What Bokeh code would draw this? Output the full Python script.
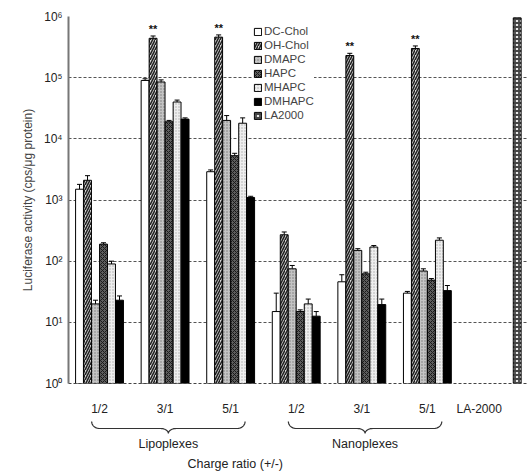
import numpy as np
from bokeh.plotting import figure
from bokeh.models import (ColumnDataSource, FixedTicker, Legend, LegendItem, Whisker,
                          TeeHead, Range1d)
from bokeh.layouts import column
from bokeh.core.properties import value
from bokeh.embed import file_html
from bokeh.resources import INLINE

# ---------------- data ----------------
ratio_labels = ["1/2", "3/1", "5/1", "1/2", "3/1", "5/1"]
group_names = ["Lipoplexes", "Nanoplexes"]
la_label = "LA-2000"
series_names = ["DC-Chol", "OH-Chol", "DMAPC", "HAPC", "MHAPC", "DMHAPC"]

dc_chol = [1500, 90000, 2900, 15, 46, 30]
oh_chol = [2100, 440000, 460000, 270, 230000, 300000]
dmapc = [20, 85000, 20000, 75, 150, 69]
hapc = [190, 19000, 5300, 15, 62, 49]
mhapc = [90, 40000, 18000, 20, 170, 220]
dmhapc = [23, 21000, 1100, 12.6, 19.5, 33]
la2000 = [950000]

dc_chol_err = [1800, 96000, 3100, 30, 60, 32]
oh_chol_err = [2500, 480000, 500000, 300, 250000, 330000]
dmapc_err = [23, 92000, 24000, 85, 160, 75]
hapc_err = [200, 20000, 5800, 16, 66, 52]
mhapc_err = [100, 43000, 22000, 24, 180, 240]
dmhapc_err = [27, 22000, 1150, 15, 24, 40]

oh_chol_marks = ["", "**", "**", "", "**", "**"]

all_values = [dc_chol, oh_chol, dmapc, hapc, mhapc, dmhapc]
all_errs = [dc_chol_err, oh_chol_err, dmapc_err, hapc_err, mhapc_err, dmhapc_err]

# ---------------- layout helpers ----------------
FONT = "Liberation Sans"
group_x = np.arange(1, 7)
la_x = 7.37
la_tick = 6.79
bar_w = 0.12
offsets = [-0.305, -0.183, -0.061, 0.061, 0.183, 0.305]

styles = [
    dict(fill_color="white"),
    dict(fill_color="#d8d8d8", hatch_pattern="/", hatch_color="#222222", hatch_scale=5, hatch_weight=1.6),
    dict(fill_color="#c4c4c4", hatch_pattern=".", hatch_color="#777777", hatch_scale=3, hatch_weight=1),
    dict(fill_color="#5e5e5e", hatch_pattern="x", hatch_color="#1a1a1a", hatch_scale=4, hatch_weight=1),
    dict(fill_color="#eeeeee", hatch_pattern=".", hatch_color="#aaaaaa", hatch_scale=3, hatch_weight=1),
    dict(fill_color="black"),
]
la_style = dict(fill_color="#e8e8e8", hatch_pattern="+", hatch_color="#444444", hatch_scale=4, hatch_weight=1.8)

p = figure(width=530, height=418, y_axis_type="log",
           x_range=Range1d(0.527, 7.527), y_range=Range1d(1, 1e6),
           output_backend="svg", toolbar_location=None,
           min_border_left=68, min_border_right=3, min_border_top=16, min_border_bottom=30)
p.outline_line_color = None
p.background_fill_color = "white"

renderers = []
for i, (vals, errs, st) in enumerate(zip(all_values, all_errs, styles)):
    src = ColumnDataSource(dict(x=group_x + offsets[i], top=vals, err=errs))
    r = p.vbar(x="x", top="top", bottom=1, width=bar_w, source=src,
               line_color="black", line_width=1, **st)
    renderers.append(r)
    w = Whisker(source=src, base="x", upper="err", lower="top", dimension="height",
                line_color="black", line_width=1,
                upper_head=TeeHead(size=5, line_color="black", line_width=1), lower_head=None)
    p.add_layout(w)

la_src = ColumnDataSource(dict(x=[la_x], top=la2000))
la_r = p.vbar(x="x", top="top", bottom=1, width=bar_w, source=la_src,
              line_color="black", line_width=1, **la_style)
renderers.append(la_r)

# significance marks
star_src = ColumnDataSource(dict(x=group_x + offsets[1], y=[e * 1.04 for e in oh_chol_err], t=oh_chol_marks))
p.text(x="x", y="y", text="t", source=star_src, text_align="center", text_baseline="bottom",
       text_font=value(FONT), text_font_size="11px", text_color="#111111", text_font_style="bold")

# legend
items = [LegendItem(label=n, renderers=[r]) for n, r in zip(series_names + ["LA2000"], renderers)]
legend = Legend(items=items, location=(185, 261), padding=0, margin=0, spacing=0,
                label_height=14, glyph_height=9, glyph_width=9, label_standoff=2,
                label_text_font=FONT, label_text_font_size="11.5px",
                border_line_color=None, background_fill_color="white", background_fill_alpha=1)
p.add_layout(legend, "center")

# axes
p.xaxis.ticker = FixedTicker(ticks=list(group_x.astype(float)) + [la_tick])
p.xaxis.major_label_overrides = {float(x): lab for x, lab in zip(group_x, ratio_labels)}
p.xaxis.major_label_overrides[la_tick] = la_label
p.xaxis.major_tick_line_color = None
p.xaxis.minor_tick_line_color = None
p.xaxis.axis_line_color = "#444444"
p.xaxis.axis_line_dash = "3 2"
p.xaxis.major_label_standoff = 12
p.xaxis.major_label_text_font = FONT
p.xaxis.major_label_text_font_size = "12px"
p.xaxis.major_label_text_color = "#222222"

y_ticks = [1, 10, 100, 1000, 10000, 100000, 1000000]
sup = ["\u2070", "\u00b9", "\u00b2", "\u00b3", "\u2074", "\u2075", "\u2076"]
p.yaxis.ticker = FixedTicker(ticks=y_ticks)
p.yaxis.major_label_overrides = {float(t): "10" + s for t, s in zip(y_ticks, sup)}
p.yaxis.minor_tick_line_color = None
p.yaxis.major_tick_in = 0
p.yaxis.major_tick_out = 0
p.yaxis.axis_line_color = "#777777"
p.yaxis.axis_line_width = 2
p.yaxis.major_label_standoff = 6
p.yaxis.major_label_text_font = FONT
p.yaxis.major_label_text_font_size = "12px"
p.yaxis.major_label_text_color = "#222222"
p.yaxis.axis_label = "Luciferase activity (cps/\u03bcg protein)"
p.yaxis.axis_label_text_font = FONT
p.yaxis.axis_label_text_font_style = "normal"
p.yaxis.axis_label_text_font_size = "12px"
p.yaxis.axis_label_standoff = 6

p.xgrid.grid_line_color = None
p.ygrid.grid_line_color = "#555555"
p.ygrid.grid_line_dash = "3 2"
p.ygrid.grid_line_width = 1

# ---------------- bottom annotation panel ----------------
p2 = figure(width=530, height=54, x_range=p.x_range, y_range=Range1d(0, 54),
            output_backend="svg", toolbar_location=None,
            min_border_left=68, min_border_right=3, min_border_top=0, min_border_bottom=0)
p2.axis.visible = False
p2.grid.grid_line_color = None
p2.outline_line_color = None


def brace(a, b, d=0.12, top=51, mid=44, low=39):
    c = (a + b) / 2
    t = np.linspace(0, np.pi / 2, 12)
    xs1 = a + d * (1 - np.cos(t)); ys1 = top - (top - mid) * np.sin(t)
    xs2 = c - d + d * np.sin(t); ys2 = mid - (mid - low) * (1 - np.cos(t))
    xs = np.concatenate([xs1, xs2, (2 * c - xs2)[::-1], (2 * c - xs1)[::-1]])
    ys = np.concatenate([ys1, ys2, ys2[::-1], ys1[::-1]])
    return xs, ys, c


centers = []
for g0, g1 in [(0, 2), (3, 5)]:
    xs, ys, c = brace(group_x[g0] - 0.12, group_x[g1] + 0.22)
    p2.line(xs, ys, line_color="#333333", line_width=1.2)
    centers.append(c)

p2.text(x=centers, y=[29, 29], text=group_names, text_align="center", text_baseline="middle",
        text_font=value(FONT), text_font_size="12.5px", text_color="#222222")
p2.text(x=[3.07], y=[9], text=["Charge ratio (+/-)"], text_align="center", text_baseline="middle",
        text_font=value(FONT), text_font_size="12.5px", text_color="#222222")

layout = column(p, p2, spacing=0)
open("out.html", "w").write(file_html(layout, INLINE))
